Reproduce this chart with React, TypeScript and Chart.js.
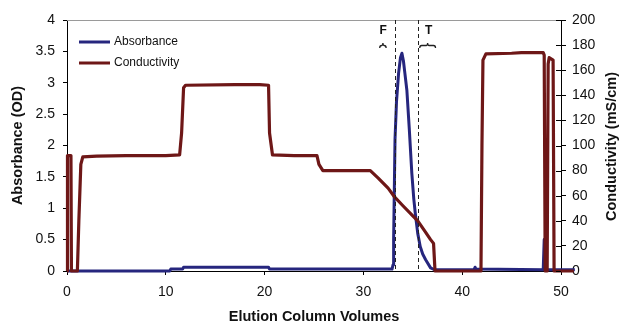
import React, { useEffect, useRef } from "react";
import { Chart, registerables } from "chart.js";

Chart.register(...registerables);

// ---- Data ----
const absorbanceX = [0, 10.4, 10.5, 11.7, 11.8, 20.4, 20.5, 32.9, 33.0, 33.06, 33.13, 33.2, 33.35, 33.56, 33.75, 33.9, 34.05, 34.2, 34.4, 34.65, 34.9, 35.1, 35.25, 35.5, 35.75, 36.0, 36.3, 36.8, 37.2, 41.2, 41.3, 41.4, 48.2, 48.3, 48.4, 51.4];
const absorbanceY = [0, 0, 0.03, 0.03, 0.06, 0.06, 0.03, 0.03, 0.1, 0.5, 1.3, 2.1, 2.7, 3.15, 3.4, 3.47, 3.35, 3.15, 2.88, 2.25, 1.56, 1.15, 0.92, 0.6, 0.39, 0.27, 0.18, 0.05, 0.02, 0.02, 0.06, 0.03, 0.02, 0.5, 0.02, 0.02];

const conductivityX = [0, 0.05, 0.4, 0.45, 1.05, 1.2, 1.4, 1.6, 3, 6, 10, 11.4, 11.6, 11.8, 12, 17, 19.5, 20.4, 20.5, 20.8, 23, 25.3, 25.5, 25.9, 30.7, 31.5, 32.5, 33.15, 34, 35, 35.5, 36.2, 36.8, 37.0, 37.1, 37.25, 41.9, 42.0, 42.1, 42.4, 45, 46, 48.2, 48.3, 48.4, 48.6, 48.7, 48.8, 49.2, 49.3, 51.3];
const conductivityY = [0, 92, 92, 0, 0, 40, 85, 91, 91.5, 92, 92, 92.5, 110, 146, 148, 148.5, 148.5, 148, 110, 92.5, 92, 92, 85, 80, 80, 74, 66, 59, 52, 44, 40, 32, 25, 23, 22, 0, 0, 100, 168, 173, 173.5, 174, 174, 172, 0, 0, 165, 170, 168, 0, 0];

const seriesLabels = ["Absorbance", "Conductivity"];
const seriesColors = ["#26267e", "#6e1717"];

const xTickStep = 10;
const yLeftTicks = [0, 0.5, 1, 1.5, 2, 2.5, 3, 3.5, 4];
const yRightTicks = [0, 20, 40, 60, 80, 100, 120, 140, 160, 180, 200];

const markerPositions = [33.15, 35.5];
const markerLabels = ["F", "T"];
const markerLabelX = [32.0, 36.6];
const markerBraceSpan = [[31.65, 32.3], [35.7, 37.3]];

const xTitle = "Elution Column Volumes";
const yLeftTitle = "Absorbance (OD)";
const yRightTitle = "Conductivity (mS/cm)";

const FONT = "'Liberation Sans', Arial, Helvetica, sans-serif";

function drawBrace(ctx: CanvasRenderingContext2D, x1: number, x2: number, y: number) {
  const mid = (x1 + x2) / 2;
  ctx.beginPath();
  ctx.moveTo(x1, y + 4);
  ctx.quadraticCurveTo(x1, y + 1.5, x1 + 2, y + 1.5);
  ctx.lineTo(mid - 1.5, y + 1.5);
  ctx.quadraticCurveTo(mid, y + 1.5, mid, y - 1);
  ctx.quadraticCurveTo(mid, y + 1.5, mid + 1.5, y + 1.5);
  ctx.lineTo(x2 - 2, y + 1.5);
  ctx.quadraticCurveTo(x2, y + 1.5, x2, y + 4);
  ctx.stroke();
}

const overlayPlugin = {
  id: "overlay",
  afterDatasetsDraw(chart: any) {
    const { ctx, chartArea } = chart;
    const { left, right, top, bottom } = chartArea;
    const x = chart.scales.x;
    const y1 = chart.scales.y1;
    ctx.save();
    // top border
    ctx.strokeStyle = "#9a9a9a";
    ctx.lineWidth = 1;
    ctx.beginPath();
    ctx.moveTo(left, top + 0.5);
    ctx.lineTo(right, top + 0.5);
    ctx.stroke();

    // right axis crossing ticks (inner half)
    ctx.strokeStyle = "#000";
    yRightTicks.forEach((v) => {
      const py = Math.round(y1.getPixelForValue(v)) + 0.5;
      ctx.beginPath();
      ctx.moveTo(right - 5, py);
      ctx.lineTo(right, py);
      ctx.stroke();
    });

    // dashed marker lines
    ctx.strokeStyle = "#222";
    ctx.setLineDash([4, 3]);
    markerPositions.forEach((v) => {
      const px = Math.round(x.getPixelForValue(v)) + 0.5;
      ctx.beginPath();
      ctx.moveTo(px, top);
      ctx.lineTo(px, bottom);
      ctx.stroke();
    });
    ctx.setLineDash([]);

    // F / T labels with braces
    ctx.fillStyle = "#111";
    ctx.font = `bold 12px ${FONT}`;
    ctx.textAlign = "center";
    ctx.textBaseline = "middle";
    markerLabels.forEach((lab, i) => {
      const px = x.getPixelForValue(markerLabelX[i]);
      ctx.fillText(lab, px, top + 11);
      const b1 = x.getPixelForValue(markerBraceSpan[i][0]);
      const b2 = x.getPixelForValue(markerBraceSpan[i][1]);
      ctx.lineWidth = 1.3;
      drawBrace(ctx, b1, b2, top + 24);
    });

    // legend
    ctx.font = `12px ${FONT}`;
    ctx.textAlign = "left";
    ctx.textBaseline = "middle";
    seriesLabels.forEach((lab, i) => {
      const ly = top + 22 + i * 21;
      ctx.strokeStyle = seriesColors[i];
      ctx.lineWidth = 3;
      ctx.beginPath();
      ctx.moveTo(left + 12, ly);
      ctx.lineTo(left + 43, ly);
      ctx.stroke();
      ctx.fillStyle = "#111";
      ctx.fillText(lab, left + 47, ly);
    });

    // right axis title (reads bottom-to-top)
    ctx.save();
    ctx.translate(611.5, (top + bottom) / 2 + 1);
    ctx.rotate(-Math.PI / 2);
    ctx.font = `bold 14.5px ${FONT}`;
    ctx.textAlign = "center";
    ctx.textBaseline = "middle";
    ctx.fillStyle = "#111";
    ctx.fillText(yRightTitle, 0, 0);
    ctx.restore();

    ctx.restore();
  },
};

export default function App() {
  const canvasRef = useRef<HTMLCanvasElement | null>(null);

  useEffect(() => {
    const canvas = canvasRef.current;
    if (!canvas) return;
    const absData = absorbanceX.map((xv, i) => ({ x: xv, y: absorbanceY[i] }));
    const condData = conductivityX.map((xv, i) => ({ x: xv, y: conductivityY[i] }));

    const chart = new Chart(canvas, {
      type: "line",
      data: {
        datasets: [
          {
            label: seriesLabels[0],
            data: absData,
            borderColor: seriesColors[0],
            backgroundColor: seriesColors[0],
            borderWidth: 3,
            pointRadius: 0,
            tension: 0,
            yAxisID: "y",
            clip: false as any,
            borderJoinStyle: "round",
            order: 1,
          },
          {
            label: seriesLabels[1],
            data: condData,
            borderColor: seriesColors[1],
            backgroundColor: seriesColors[1],
            borderWidth: 3.2,
            pointRadius: 0,
            tension: 0,
            yAxisID: "y1",
            clip: false as any,
            borderJoinStyle: "round",
            order: 0,
          },
        ],
      },
      options: {
        responsive: false,
        animation: false,
        devicePixelRatio: 1,
        layout: { padding: { top: 20, left: 0, right: 0, bottom: 0 } },
        plugins: {
          legend: { display: false },
          tooltip: { enabled: false },
        },
        scales: {
          x: {
            type: "linear",
            min: 0,
            max: 50,
            ticks: {
              stepSize: xTickStep,
              color: "#111",
              font: { size: 14, family: FONT },
              padding: 9,
              maxRotation: 0,
            },
            grid: { drawOnChartArea: false, drawTicks: true, tickLength: 4, color: "#000" },
            border: { display: true, color: "#000", width: 1 },
            title: {
              display: true,
              text: xTitle,
              color: "#111",
              font: { size: 14.5, weight: "bold", family: FONT },
              padding: { top: 0, bottom: 0 },
            },
            afterFit: (s: any) => {
              s.height = 55;
            },
          },
          y: {
            type: "linear",
            position: "left",
            min: 0,
            max: 4,
            afterBuildTicks: (s: any) => {
              s.ticks = yLeftTicks.map((v) => ({ value: v }));
            },
            ticks: {
              color: "#111",
              font: { size: 14, family: FONT },
              padding: 8,
              callback: (v: any) => String(v),
            },
            grid: { drawOnChartArea: false, drawTicks: true, tickLength: 4, color: "#000" },
            border: { display: true, color: "#000", width: 1 },
            title: {
              display: true,
              text: yLeftTitle,
              color: "#111",
              font: { size: 14.5, weight: "bold", family: FONT },
              padding: { top: 9, bottom: 0 },
            },
            afterFit: (s: any) => {
              s.width = 67;
            },
          },
          y1: {
            type: "linear",
            position: "right",
            min: 0,
            max: 200,
            afterBuildTicks: (s: any) => {
              s.ticks = yRightTicks.map((v) => ({ value: v }));
            },
            ticks: {
              color: "#111",
              font: { size: 14, family: FONT },
              padding: 6,
              callback: (v: any) => String(v),
            },
            grid: { drawOnChartArea: false, drawTicks: true, tickLength: 5, color: "#000" },
            border: { display: true, color: "#000", width: 1 },
            title: { display: false },
            afterFit: (s: any) => {
              s.width = 60;
            },
          },
        },
      },
      plugins: [overlayPlugin],
    });

    return () => {
      chart.destroy();
    };
  }, []);

  return (
    <div style={{ position: "absolute", left: 0, top: 0, width: 621, height: 326, background: "#fff" }}>
      <canvas ref={canvasRef} width={621} height={326} style={{ display: "block", width: 621, height: 326 }} />
    </div>
  );
}
